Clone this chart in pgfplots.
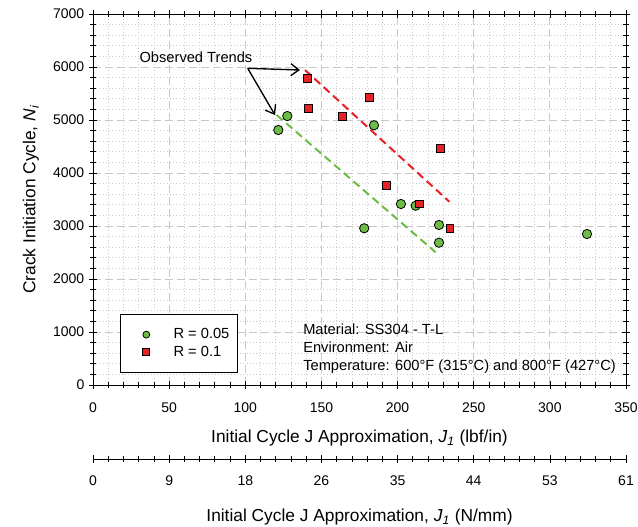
\documentclass[border=0pt]{standalone}
\usepackage{fontspec}
\setmainfont{Liberation Sans}
\usepackage{pgfplots}
\pgfplotsset{compat=1.18}
\usetikzlibrary{arrows.meta}
\definecolor{mygreen}{RGB}{108,189,69}
\definecolor{myred}{RGB}{234,32,39}
\definecolor{gridmaj}{RGB}{200,200,200}
\definecolor{gridmin}{RGB}{205,205,205}

\pgfplotstableread{
x y
121.7 4811
127.6 5075
184.5 4900
178.1 2957
202.2 3415
211.9 3383
227.2 3019
227.2 2685
324.4 2849
}\greendata

\pgfplotstableread{
x y
141.0 5787
141.4 5221
164.0 5062
181.7 5428
227.9 4466
192.9 3760
214.1 3415
234.4 2957
}\reddata

\begin{document}
\begin{tikzpicture}
\begin{axis}[
  at={(0,0)}, anchor=south west,
  width=399.75pt, height=278.25pt, scale only axis,
  xmin=0, xmax=350, ymin=0, ymax=7000,
  xtick={0,50,...,350}, ytick={0,1000,...,7000},
  minor x tick num=4, minor y tick num=4,
  grid=both,
  major grid style={gridmaj, dash pattern=on 6pt off 3pt, line width=0.7pt},
  minor grid style={gridmin, dash pattern=on 0.8pt off 1.6pt, line width=0.5pt},
  tick align=center,
  major tick length=6pt, minor tick length=4pt,
  every tick/.style={black, line width=0.5pt},
  axis line style={black, line width=0.6pt},
  /pgf/number format/assume math mode=true,
  /pgf/number format/set thousands separator={},
  ticklabel style={font=\fontsize{10.5}{12}\selectfont},
  xticklabel style={anchor=center, yshift=-14.25pt},
  label style={font=\fontsize{13}{15}\selectfont},
  xlabel style={at={(axis description cs:0.5,0)}, anchor=center, yshift=-39.75pt},
  ylabel style={at={(axis description cs:-0.1163,0.5)}, anchor=center},
  xlabel={Initial Cycle J Approximation, \textit{J}\textsubscript{\textit{1}} (lbf/in)},
  ylabel={Crack Initiation Cycle, \textit{N}\textsubscript{\textit{i}}},
  legend style={at={(axis cs:17.7,1340)}, anchor=north west, draw=black, line width=0.8pt,
    font=\fontsize{11}{13}\selectfont, inner xsep=4pt, inner ysep=8.5pt, cells={anchor=west}},
  legend image code/.code={\path (0pt,0pt) (33pt,0pt); \draw[#1, mark size=2.6pt] plot coordinates {(15pt,0pt)};},
  clip=false,
]
\addplot[only marks, mark=*, mark size=3.5pt, draw=black, fill=mygreen, mark options={line width=0.6pt}] table {\greendata};
\addlegendentry{R = 0.05}
\addplot[only marks, mark=square*, mark size=2.9pt, draw=black, fill=myred, mark options={line width=0.6pt}] table {\reddata};
\addlegendentry{R = 0.1}

\addplot[myred, line width=1.5pt, dash pattern=on 6pt off 3.5pt] coordinates {(139.2,5943) (234.0,3458)};
\addplot[mygreen, line width=1.5pt, dash pattern=on 6pt off 3.5pt] coordinates {(120.6,5094) (225.0,2504)};

\draw[black, line width=1pt, -{Straight Barb[length=6pt, width=9pt]}] (axis cs:101.6,5975) -- (axis cs:135.9,5943);
\draw[black, line width=1pt, -{Straight Barb[length=6pt, width=9pt]}] (axis cs:101.6,5975) -- (axis cs:119.5,5094);
\node[font=\fontsize{11}{13}\selectfont] at (axis cs:67.6,6189) {Observed Trends};

\node[anchor=north west, inner sep=0pt, align=left, font=\fontsize{11}{13.5}\selectfont] at (axis cs:137.9,1160)
 {Material: SS304 - T-L\\Environment: Air\\Temperature: 600°F (315°C) and 800°F (427°C)};
\end{axis}

\begin{axis}[
  at={(0,-55.5pt)}, anchor=south west,
  width=399.75pt, height=1pt, scale only axis,
  xmin=0, xmax=350, ymin=0, ymax=1,
  axis x line*=bottom, hide y axis,
  xtick={0,50,...,350},
  xticklabels={0,9,18,26,35,44,53,61},
  minor x tick num=4,
  tick align=center,
  major tick length=6pt, minor tick length=4pt,
  every tick/.style={black, line width=0.5pt},
  axis line style={black, line width=0.6pt, -},
  ticklabel style={font=\fontsize{10.5}{12}\selectfont},
  xticklabel style={anchor=center, yshift=-13.5pt},
  label style={font=\fontsize{13}{15}\selectfont},
  xlabel style={at={(axis description cs:0.5,0)}, anchor=center, yshift=-43.5pt},
  xlabel={Initial Cycle J Approximation, \textit{J}\textsubscript{\textit{1}} (N/mm)},
]
\end{axis}
\pgfresetboundingbox
\path[use as bounding box] (-69.75pt,-106.5pt) rectangle (408.75pt,288.75pt);
\end{tikzpicture}
\end{document}
